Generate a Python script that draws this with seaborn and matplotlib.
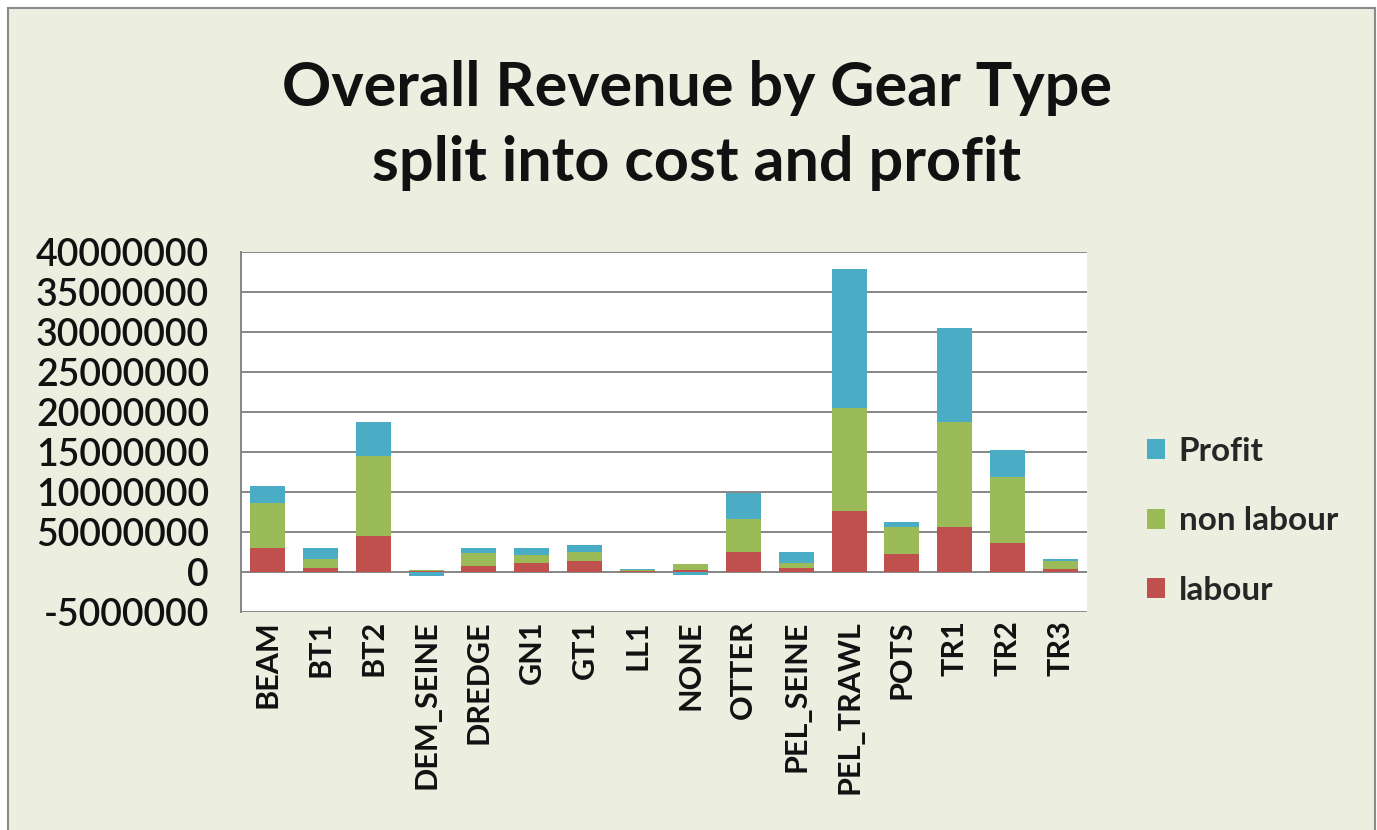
import matplotlib
matplotlib.use("Agg")
import matplotlib.pyplot as plt
from matplotlib.patches import Rectangle
from matplotlib.ticker import FixedLocator, FixedFormatter
import numpy as np
import pandas as pd
import seaborn as sns

# Gear types and revenue components (currency units)
gears = ["BEAM", "BT1", "BT2", "DEM_SEINE", "DREDGE", "GN1", "GT1", "LL1",
         "NONE", "OTTER", "PEL_SEINE", "PEL_TRAWL", "POTS", "TR1", "TR2", "TR3"]
labour = [3050000, 500000, 4500000, 100000, 800000, 1100000, 1400000, 100000,
          300000, 2450000, 500000, 7600000, 2250000, 5600000, 3600000, 400000]
non_labour = [5550000, 1100000, 10000000, 150000, 1600000, 1050000, 1100000, 100000,
              700000, 4150000, 600000, 12900000, 3350000, 13100000, 8300000, 1000000]
profit = [2150000, 1450000, 4200000, -450000, 650000, 900000, 850000, 200000,
          -350000, 3250000, 1350000, 17400000, 600000, 11800000, 3400000, 200000]

y_ticks = [-5000000, 0, 5000000, 10000000, 15000000, 20000000,
           25000000, 30000000, 35000000, 40000000]
y_tick_labels = ["-5000000", "0", "50000000", "10000000", "15000000", "20000000",
                 "25000000", "30000000", "35000000", "40000000"]

series_names = ["Profit", "non labour", "labour"]
colors = {"Profit": "#4BACC6", "non labour": "#9BBB59", "labour": "#C0504D"}

df = pd.DataFrame({"gear": gears, "labour": labour,
                   "non_labour": non_labour, "profit": profit})
# Stack tops: positive parts accumulate upward, negative profit hangs below zero
df["top_labour"] = df["labour"]
df["top_non"] = df["labour"] + df["non_labour"]
df["top_profit"] = np.where(df["profit"] >= 0, df["top_non"] + df["profit"], df["profit"])

sns.set_theme(style="white")
FONT = ["Lato", "DejaVu Sans"]
plt.rcParams["font.family"] = FONT

BG = "#ECEEE0"
fig = plt.figure(figsize=(13.77, 8.3), dpi=100, facecolor="white")
fig.patches.append(Rectangle((8 / 1377, -0.05), 1367 / 1377, 1.05 - 8 / 830,
                             transform=fig.transFigure, facecolor=BG,
                             edgecolor="#8A8A8A", linewidth=1.5, zorder=-10))

ax = fig.add_axes([241 / 1377, 1 - 612 / 830, (1087 - 241) / 1377, (612 - 252) / 830])
ax.set_facecolor("white")

w = 0.66
bar_kw = dict(width=w, saturation=1, order=gears, linewidth=0, edgecolor="none")
sns.barplot(data=df, x="gear", y="top_profit", color=colors["Profit"], ax=ax,
            zorder=2, **bar_kw)
sns.barplot(data=df, x="gear", y="top_non", color=colors["non labour"], ax=ax,
            zorder=3, **bar_kw)
sns.barplot(data=df, x="gear", y="top_labour", color=colors["labour"], ax=ax,
            zorder=4, **bar_kw)

ax.set_ylim(-5000000, 40000000)
ax.set_xlim(-0.5, len(gears) - 0.5)
ax.yaxis.set_major_locator(FixedLocator(y_ticks))
ax.yaxis.set_major_formatter(FixedFormatter(y_tick_labels))
ax.grid(axis="y", color="#868686", linewidth=1.4, zorder=1)
ax.set_axisbelow(True)
ax.set_xlabel("")
ax.set_ylabel("")

for side in ["top", "right", "bottom"]:
    ax.spines[side].set_visible(False)
ax.spines["left"].set_color("#868686")
ax.spines["left"].set_linewidth(1.4)

ax.tick_params(axis="y", which="major", left=False, pad=17, labelsize=27,
               labelcolor="#111111")
ax.tick_params(axis="x", which="major", bottom=False, pad=0, labelsize=22,
               labelcolor="#111111")
for lbl in ax.get_yticklabels():
    lbl.set_fontweight("semibold")
for lbl in ax.get_xticklabels():
    lbl.set_rotation(90)
    lbl.set_fontweight("bold")
    lbl.set_va("top")
    lbl.set_ha("center")

fig.text(0.506, 1 - 88 / 830, "Overall Revenue by Gear Type", ha="center", va="center",
         fontsize=44, fontweight="bold", color="#111111")
fig.text(0.506, 1 - 163 / 830, "split into cost and profit", ha="center", va="center",
         fontsize=44, fontweight="bold", color="#111111")

handles = [Rectangle((0, 0), 1, 1, facecolor=colors[n], edgecolor="none") for n in series_names]
leg = fig.legend(handles, series_names, loc="center left",
                 bbox_to_anchor=(1117 / 1377, 1 - 521 / 830), frameon=False,
                 handlelength=0.55, handleheight=0.55, handletextpad=0.4,
                 labelspacing=1.22, prop={"family": FONT, "weight": "bold", "size": 24})

fig.savefig("out.png", dpi=100, facecolor=fig.get_facecolor())
